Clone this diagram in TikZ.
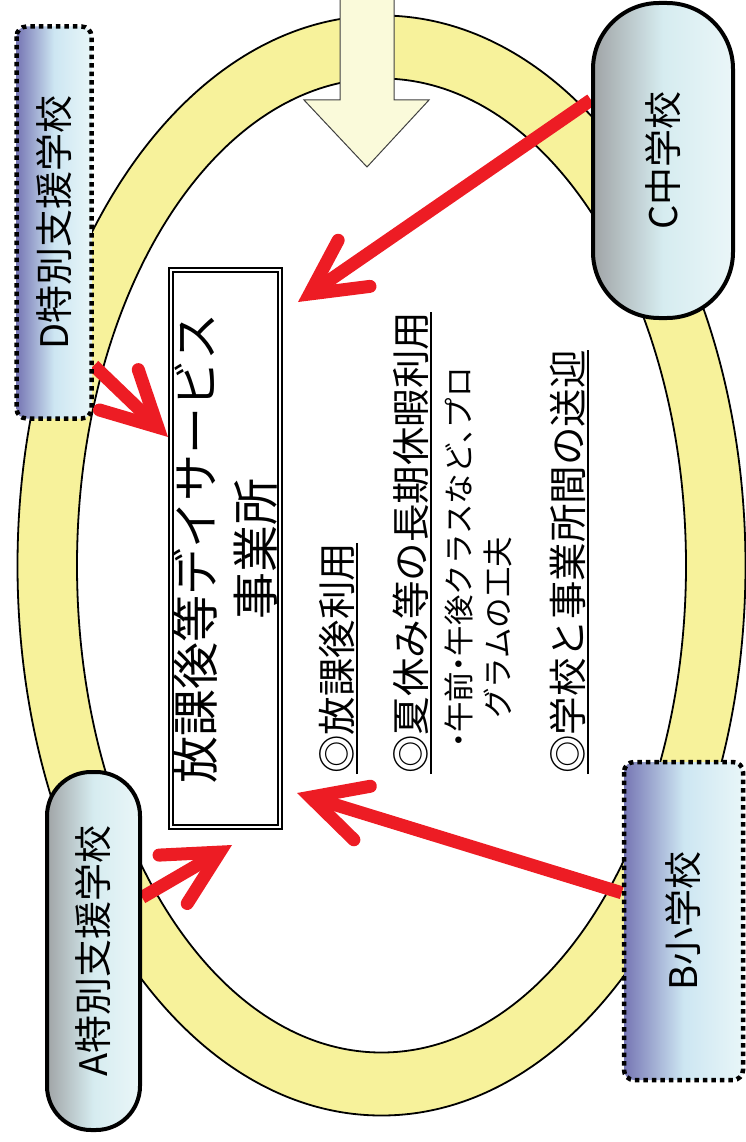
\documentclass[tikz,border=0pt]{standalone}
\usepackage{fontspec}
\newfontfamily\jp{Noto Sans CJK JP}
\newfontfamily\jpp[RawFeature=+palt]{Noto Sans CJK JP}
\usetikzlibrary{arrows.meta,calc}
\definecolor{ringY}{RGB}{247,242,155}
\definecolor{arrowY}{RGB}{250,250,218}
\definecolor{redA}{RGB}{237,28,36}
\definecolor{gDark}{RGB}{118,118,180}
\definecolor{gMid}{RGB}{205,230,242}
\definecolor{gLight}{RGB}{232,246,248}
\definecolor{sGray}{RGB}{160,164,166}
\definecolor{sMid}{RGB}{214,236,240}
\definecolor{sLight}{RGB}{234,246,248}
\pgfdeclarelayer{fg}
\pgfsetlayers{main,fg}
\begin{document}
\begin{tikzpicture}[x=1pt,y=-1pt,font=\jp,
  dotbox/.style={rotate=90,draw=black,line width=4.5pt,dash pattern=on 4.5pt off 4pt,
    rounded corners=10pt,left color=gDark,right color=gLight,middle color=gMid,
    inner sep=0pt,font=\jp\fontsize{38}{44}\selectfont},
  pill/.style={rotate=90,draw=black,line width=4pt,left color=sGray,right color=sLight,
    middle color=sMid,inner sep=0pt,font=\jp\fontsize{38}{44}\selectfont},
  redarrow/.style={draw=redA,line width=13pt,
    -{Straight Barb[length=54pt,width=56pt,line cap=round,line join=miter]}},
  item/.style={rotate=90,anchor=west,inner xsep=0pt,inner ysep=2pt,
    font=\jp\fontsize{38.5}{44}\selectfont},
  subitem/.style={rotate=90,anchor=west,inner sep=0pt,font=\jp\fontsize{30.5}{36}\selectfont},
  uline/.style={draw=black,line width=2pt},
  titlebox/.style={rotate=90,draw=black,double=white,double distance=2.6pt,line width=1.6pt,
    align=center,inner sep=0pt,font=\jp\fontsize{47}{60}\selectfont}
]
\clip (0,0) rectangle (746,1142);
% ring
\fill[ringY,even odd rule] (381.5,565.5) ellipse [x radius=364pt,y radius=550pt]
  (381.5,565.5) ellipse [x radius=304.5pt,y radius=487pt];
\draw[line width=1.8pt] (381.5,565.5) ellipse [x radius=364pt,y radius=550pt];
\draw[line width=1.8pt] (381.5,565.5) ellipse [x radius=304.5pt,y radius=487pt];
% down block arrow
\filldraw[fill=arrowY,draw=black!75,line width=1pt]
  (340,-10) -- (340,100) -- (304,100) -- (367,167) -- (429,100) -- (394,100) -- (394,-10) -- cycle;
% title box
\node[titlebox,minimum width=557pt,minimum height=109pt] (svc) at (225.5,548.5)
  {放課後等デイサービス\\事業所};
% text lines
\node[item] (t1) at (337,774) {◎放課後利用};
\node[item] (t2) at (411,774) {◎夏休み等の長期休暇利用};
\node[subitem] (t3) at (459,748) {{\jpp ・}午前{\jpp ・}午後クラスなど{\jpp 、}プロ};
\node[subitem] (t4) at (498,719) {グラムの工夫};
\node[item] (t5) at (568,774) {◎学校と事業所間の送迎};
\draw[uline] (t1.south west) -- (t1.south east);
\draw[uline] (t2.south west) -- (t2.south east);
\draw[uline] (t5.south west) -- (t5.south east);
% school nodes
\begin{pgfonlayer}{fg}
\node[dotbox,minimum width=392pt,minimum height=75pt] (D) at (54,222.5) {D特別支援学校};
\node[pill,minimum width=315pt,minimum height=140pt,rounded corners=66pt] (C) at (663,160.5) {C中学校};
\node[pill,minimum width=358pt,minimum height=93pt,rounded corners=44pt] (A) at (93.5,951) {A特別支援学校};
\node[dotbox,minimum width=318pt,minimum height=119pt] (B) at (683.5,921) {B小学校};
\end{pgfonlayer}
% red arrows
\coordinate (tC) at (298,302);
\coordinate (tD) at (168,437);
\coordinate (tA) at (232,845);
\coordinate (tB) at (297,793);
\draw[redarrow] ($(C.north west)!0.69!(C.north east)$) -- (tC);
\draw[redarrow] ($(D.south west)!0.139!(D.south east)$) -- (tD);
\draw[redarrow] ($(A.south west)!0.648!(A.south east)$) -- (tA);
\draw[redarrow] ($(B.north west)!0.5875!(B.north east)$) -- (tB);
\end{tikzpicture}
\end{document}
